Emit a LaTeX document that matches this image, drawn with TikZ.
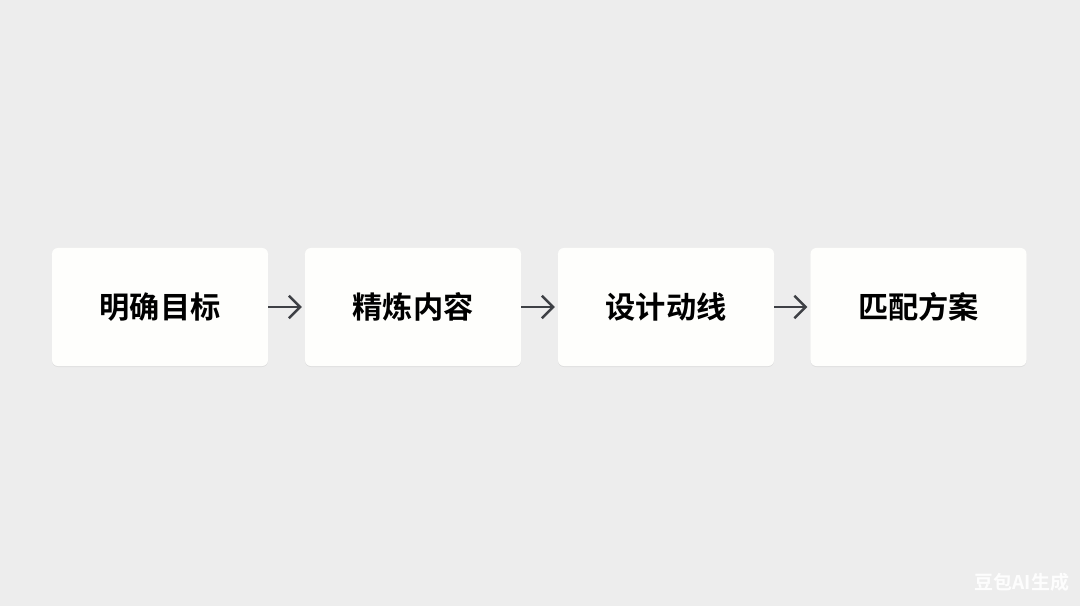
\documentclass[tikz,border=0pt]{standalone}
\usepackage{fontspec}
\newfontfamily\cjk{Noto Sans CJK SC}[BoldFont={Noto Sans CJK SC Bold}]
\usetikzlibrary{arrows.meta,positioning,shadows}
\definecolor{bggray}{HTML}{EDEDED}
\definecolor{boxwhite}{HTML}{FEFEFC}
\definecolor{arrowgray}{HTML}{3E4045}
\tikzset{
  stepbox/.style={rectangle, rounded corners=0.15cm, fill=boxwhite,
    minimum width=5.4cm, minimum height=2.95cm, inner sep=0pt,
    font=\cjk\bfseries\fontsize{21.5pt}{24pt}\selectfont, text=black,
    drop shadow={shadow xshift=0pt, shadow yshift=-0.025cm, fill=black, opacity=.06}},
  flow/.style={draw=arrowgray, line width=1.8pt, shorten >=0.07cm,
    -{Straight Barb[length=2.8mm,width=5.6mm,line width=1.8pt]}},
}
\begin{document}
\begin{tikzpicture}[x=0.025cm,y=-0.025cm]
  % background
  \fill[bggray] (0,0) rectangle (1080,606);
  \useasboundingbox (0,0) rectangle (1080,606);
  % steps
  \node[stepbox] (goal)  at (160,307) {明确目标};
  \node[stepbox] (refine) at (413,307) {精炼内容};
  \node[stepbox] (route) at (666,307) {设计动线};
  \node[stepbox] (match) at (918.5,307) {匹配方案};
  \draw[flow] (goal.east) -- (refine.west);
  \draw[flow] (refine.east) -- (route.west);
  \draw[flow] (route.east) -- (match.west);
  % watermark
  \node[anchor=east, text=white, text opacity=.9, font=\cjk\bfseries\fontsize{13.5pt}{15pt}\selectfont] (mark) at (1074,582) {豆包AI生成};
\end{tikzpicture}
\end{document}
